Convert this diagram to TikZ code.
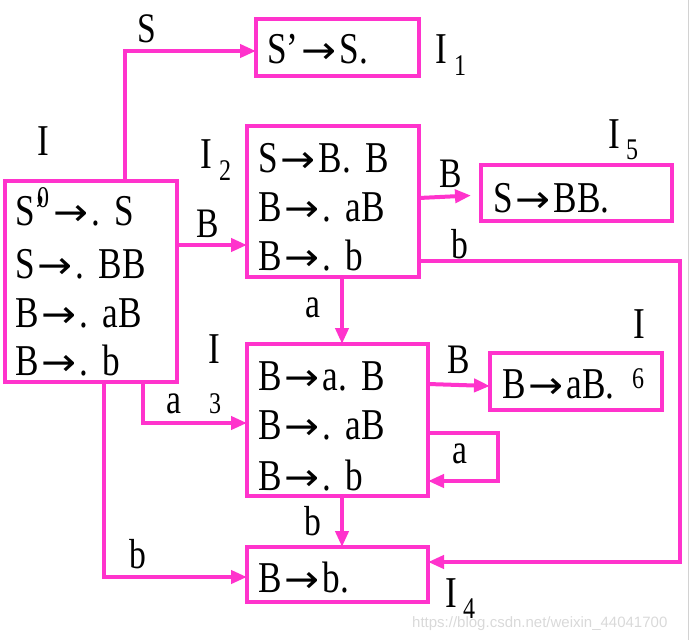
\documentclass[tikz,border=0pt]{standalone}
\usepackage{fontspec}
\setmainfont{Liberation Serif}[FakeStretch=0.8]
\newfontfamily\wmfont{Liberation Sans}
\newfontfamily\arfont{DejaVu Sans}[FakeStretch=1.1]
\newcommand{\ra}{\hspace{3pt}{\arfont\fontsize{38}{48}\selectfont →}\hspace{3pt}}
\newcommand{\gp}{\hspace{14pt}}
\usetikzlibrary{arrows.meta}
\definecolor{pk}{RGB}{255,51,204}
\begin{document}
\begin{tikzpicture}[x=1pt,y=-1pt,
  box/.style={draw=pk,line width=4pt,inner sep=0pt,outer sep=0pt},
  arr/.style={draw=pk,line width=4pt,-{Triangle[length=16pt,width=13pt]}},
  ln/.style={anchor=base west,inner sep=0pt,font=\fontsize{44}{50}\selectfont},
  lab/.style={anchor=base,inner sep=0pt,font=\fontsize{42}{48}\selectfont},
  big/.style={anchor=base west,inner sep=0pt,font=\fontsize{44}{50}\selectfont},
  sub/.style={anchor=base west,inner sep=0pt,font=\fontsize{30}{34}\selectfont}]
\useasboundingbox (0,0) rectangle (690,640);
\draw[gray!35,line width=1pt] (688,0) -- (688,640);
% boxes
\node[box,minimum width=172pt,minimum height=201pt] (I0) at (91,281.5) {};
\node[box,minimum width=163pt,minimum height=57pt] (I1) at (337.5,47.5) {};
\node[box,minimum width=172pt,minimum height=151pt] (I2) at (333,201.5) {};
\node[box,minimum width=191pt,minimum height=56pt] (I5) at (576.5,193) {};
\node[box,minimum width=181pt,minimum height=152pt] (I3) at (337.5,420) {};
\node[box,minimum width=172pt,minimum height=57pt] (I6) at (576,381.5) {};
\node[box,minimum width=181pt,minimum height=55pt] (I4) at (337.5,574.5) {};
% texts in boxes
\node[ln] (t01) at (15,225) {S’\hspace{4pt}\ra.\gp S};
\node[ln] (t02) at (15,278) {S\ra.\gp BB};
\node[ln] (t03) at (15,327) {B\ra.\gp aB};
\node[ln] (t04) at (15,375) {B\ra.\gp b};
\node[ln] (t11) at (267,63) {S’\ra S.};
\node[ln] (t21) at (258,172) {S\ra B.\gp B};
\node[ln] (t22) at (258,221) {B\ra.\gp aB};
\node[ln] (t23) at (258,270) {B\ra.\gp b};
\node[ln] (t51) at (493,212) {S\ra BB.};
\node[ln] (t31) at (258,390) {B\ra a.\gp B};
\node[ln] (t32) at (258,439) {B\ra.\gp aB};
\node[ln] (t33) at (258,490) {B\ra.\gp b};
\node[ln] (t61) at (502,398) {B\ra aB.};
\node[ln] (t41) at (258,592) {B\ra b.};
% state labels
\node[big] (L0) at (37,155) {I};
\node[sub] (L0s) at (37,207) {0};
\node[big] (L1) at (435,63) {I};
\node[sub] (L1s) at (454,75) {1};
\node[big] (L2) at (200,168) {I};
\node[sub] (L2s) at (219,180) {2};
\node[big] (L5) at (608,148) {I};
\node[sub] (L5s) at (626,159) {5};
\node[big] (L3) at (208,363) {I};
\node[sub] (L3s) at (209,413) {3};
\node[big] (L6) at (633,338) {I};
\node[sub] (L6s) at (632,388) {6};
\node[big] (L4) at (445,607) {I};
\node[sub] (L4s) at (463,618) {4};
% connectors
\coordinate (cS) at (125,0);
\draw[arr] (I0.north -| cS) |- ([yshift=-3.5pt]I1.west);
\node[lab] (eS) at (147,42) {S};
\coordinate (e2) at ([yshift=36.5pt]I0.east);
\draw[arr] (e2) -- (e2 -| I2.west);
\node[lab] (eB1) at (208,237) {B};
\draw[arr,shorten >=10pt] ([yshift=3.5pt]I2.east) -- ([yshift=-2pt]I5.west);
\node[lab] (eB2) at (451,187) {B};
\coordinate (cR) at (680,562);
\draw[arr] ([yshift=-59.5pt]I2.east) -| (cR) -- (cR -| I4.east);
\node[lab] (eb1) at (460,258) {b};
\coordinate (cA) at (342,0);
\draw[arr] (I2.south -| cA) -- (I3.north -| cA);
\node[lab] (ea1) at (313,317) {a};
\draw[arr] ([yshift=36pt]I3.east) -- ([yshift=-4.5pt]I6.west);
\node[lab] (eB3) at (459,373) {B};
\coordinate (cL) at (498,481);
\draw[arr] ([yshift=-13pt]I3.east) -| (cL) -- (cL -| I3.east);
\node[lab] (ea2) at (460,463) {a};
\draw[arr] (I3.south -| cA) -- (I4.north -| cA);
\node[lab] (eb2) at (313,535) {b};
\coordinate (c9) at (143,423);
\draw[arr] (I0.south -| c9) |- (c9 -| I3.west);
\node[lab] (ea3) at (174,413) {a};
\coordinate (c10) at (104,577);
\draw[arr] (I0.south -| c10) |- (c10 -| I4.west);
\node[lab] (eb3) at (138,568) {b};
% watermark
\node[anchor=base west,inner sep=0pt,text=gray!30,font=\wmfont\fontsize{15}{18}\selectfont] (wm) at (412,627) {https://blog.csdn.net/weixin\_44041700};
\end{tikzpicture}
\end{document}
